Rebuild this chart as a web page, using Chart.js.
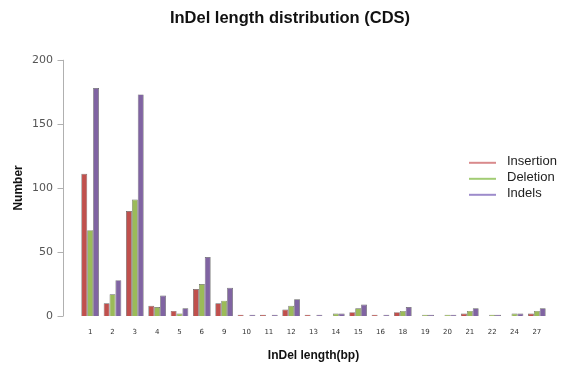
<!DOCTYPE html>
<html>
<head>
<meta charset="utf-8">
<script src="https://cdn.jsdelivr.net/npm/chart.js@4.4.0/dist/chart.umd.min.js"></script>
<style>
  html, body { margin: 0; padding: 0; background: #fff; }
  #wrap { width: 570px; height: 372px; }
</style>
</head>
<body>
<div id="wrap"><canvas id="c" width="570" height="372"></canvas></div>
<script>
// InDel lengths (bp) shown on the x axis
const lengths = ['1','2','3','4','5','6','9','10','11','12','13','14','15','16','18','19','20','21','22','24','27'];
// counts per length
const insertion = [111, 10, 82, 8, 4, 21, 10, 1, 1, 5, 1, 0, 3, 1, 3, 0, 0, 2, 0, 0, 2];
const deletion  = [67, 17, 91, 7, 2, 25, 12, 0, 0, 8, 0, 2, 6, 0, 4, 1, 1, 4, 1, 2, 4];
const indels    = [178, 28, 173, 16, 6, 46, 22, 1, 1, 13, 1, 2, 9, 1, 7, 1, 1, 6, 1, 2, 6];
const yTicks = [0, 50, 100, 150, 200];

// R-style y axis, drawn a bit away from the plot area
const rAxis = {
    id: 'rAxis',
    afterDraw(chart) {
        const ctx = chart.ctx;
        const y = chart.scales.y;
        const x0 = chart.chartArea.left - 16;
        ctx.save();
        ctx.strokeStyle = '#b0b0b0';
        ctx.lineWidth = 1;
        ctx.beginPath();
        ctx.moveTo(x0 + 0.5, y.getPixelForValue(0));
        ctx.lineTo(x0 + 0.5, y.getPixelForValue(200));
        yTicks.forEach(v => {
            const py = Math.round(y.getPixelForValue(v)) + 0.5;
            ctx.moveTo(x0 + 0.5, py);
            ctx.lineTo(x0 - 5.5, py);
        });
        ctx.stroke();
        ctx.restore();
    }
};

// legend with short lines, sitting over the right side of the plot
const lineLegend = {
    id: 'lineLegend',
    afterDraw(chart) {
        const ctx = chart.ctx;
        const colors = ['#d98a8c', '#a2cc74', '#9d8bcb'];
        const lx = chart.chartArea.right - 79;
        const ly = chart.chartArea.top + 103;
        ctx.save();
        ctx.font = '13px "Liberation Sans", Arial, sans-serif';
        ctx.textBaseline = 'middle';
        chart.data.datasets.forEach((ds, i) => {
            const yy = ly + i * 16;
            ctx.strokeStyle = colors[i];
            ctx.lineWidth = 2;
            ctx.beginPath();
            ctx.moveTo(lx, yy);
            ctx.lineTo(lx + 27, yy);
            ctx.stroke();
            ctx.fillStyle = '#222';
            ctx.fillText(ds.label, lx + 38, yy - 1);
        });
        ctx.restore();
    }
};

new Chart(document.getElementById('c'), {
    type: 'bar',
    data: {
        labels: lengths,
        datasets: [
            { label: 'Insertion', data: insertion, backgroundColor: '#c0504d' },
            { label: 'Deletion', data: deletion, backgroundColor: '#9bbb59' },
            { label: 'Indels', data: indels, backgroundColor: '#8064a2' }
        ]
    },
    options: {
        responsive: false,
        animation: false,
        devicePixelRatio: 1,
        layout: { padding: { left: 32, right: 22, top: 0, bottom: 0 } },
        datasets: {
            bar: {
                categoryPercentage: 0.79,
                barPercentage: 1,
                borderColor: 'rgba(50,50,50,0.75)',
                borderWidth: 0.7
            }
        },
        scales: {
            x: {
                offset: true,
                grid: { display: false, drawTicks: false },
                border: { display: false },
                ticks: {
                    color: '#333',
                    font: { family: 'DejaVu Sans', size: 7 },
                    padding: 12,
                    autoSkip: false,
                    maxRotation: 0
                },
                title: {
                    display: true,
                    text: 'InDel length(bp)',
                    color: '#111',
                    font: { family: 'Liberation Sans', size: 12, weight: 'bold' },
                    padding: { top: 0, bottom: 9 }
                },
                afterFit(s) { s.height = 56; }
            },
            y: {
                min: 0,
                max: 200,
                grid: { display: false, drawTicks: false },
                border: { display: false },
                ticks: {
                    stepSize: 50,
                    color: '#555',
                    font: { family: 'DejaVu Sans', size: 11 },
                    padding: 26
                },
                title: {
                    display: true,
                    text: 'Number',
                    color: '#111',
                    font: { family: 'Liberation Sans', size: 12, weight: 'bold' },
                    padding: { top: -21, bottom: 0 }
                },
                afterFit(s) { s.width = 47; }
            }
        },
        plugins: {
            legend: { display: false },
            tooltip: { enabled: false },
            title: {
                display: true,
                text: 'InDel length distribution (CDS)',
                color: '#111',
                font: { family: 'Liberation Sans', size: 16.5, weight: 'bold' },
                padding: { top: 9, bottom: 31 }
            }
        }
    },
    plugins: [rAxis, lineLegend]
});
</script>
</body>
</html>
